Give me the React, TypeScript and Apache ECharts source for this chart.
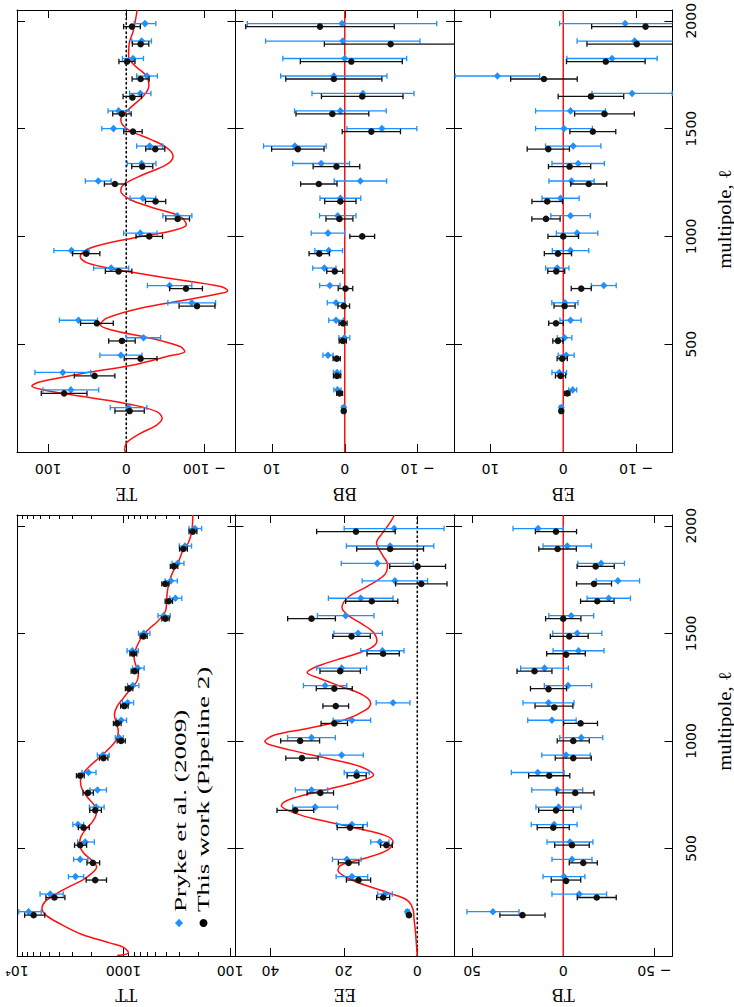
import React, { useEffect, useRef } from "react";
import * as echarts from "echarts";

// ---------- data ----------
// multipole bin centres (black = this work, blue = Pryke et al. 2009, drawn slightly offset)
const ellBlack = [190, 272, 353, 433, 515, 597, 677, 758, 838, 920, 1000, 1081, 1162, 1243, 1324, 1405, 1486, 1568, 1649, 1730, 1811, 1892, 1973];
const ellBlue = [206, 288, 369, 449, 530, 611, 692, 772, 853, 934, 1015, 1096, 1177, 1257, 1338, 1419, 1500, 1582, 1663, 1744, 1825, 1906, 1987];

// TT
const ttBlack = [6980, 4450, 1845, 1941, 2553, 2377, 1845, 2161, 2553, 1542, 1055, 1150, 985, 890, 787, 812, 650, 405, 377, 406, 337, 275, 224];
const ttBlackErr = [1500, 900, 400, 265, 330, 280, 230, 240, 215, 140, 92, 95, 80, 72, 62, 60, 50, 32, 30, 31, 27, 23, 19];
const ttBlue = [7780, 4880, 2826, 2553, 2291, 2679, 1807, 1757, 2133, 1563, 1100, 1052, 915, 818, 733, 827, 645, 420, 326, 360, 311, 265, 214];
const ttBlueErr = [1850, 1200, 460, 390, 410, 310, 285, 310, 320, 200, 95, 115, 110, 100, 92, 100, 80, 55, 42, 47, 40, 35, 29];
// TE
const teBlack = [-4.3, 79.6, 40.6, -18.4, 5.5, 37.6, -90.7, -76.6, 9.8, 51.3, -29.5, -65.9, -37.6, 14.5, -20.5, -37.2, -8.6, 5.5, -7.7, -18.4, -0.9, -18.4, -7.3];
const teBlackErr = [18.8, 29.3, 26, 21, 17, 21, 23, 21, 17, 17.5, 17, 15.2, 13, 13.5, 13.5, 12.2, 11.8, 11.8, 11.8, 10.9, 10.3, 10.5, 10.7];
const teBlue = [-3, 71, 81.3, 6.8, -22.2, 61.2, -83.9, -55.6, 19.3, 70.2, -18, -65.5, -21.4, 35.9, -19.7, -30, 16.3, 9.8, -18, -26.6, -8.6, -19.7, -24];
const teBlueErr = [23.5, 35.7, 35.7, 27, 21.8, 24.4, 30.6, 28.5, 22.5, 22.5, 21.4, 18.6, 16.5, 16.5, 18.4, 16.7, 15, 13.5, 13.7, 13.3, 13.5, 12.6, 13.9];
// EE
const eeBlack = [2.26, 9.3, 16.0, 18.7, 8.4, 18.3, 33.2, 26.4, 16.5, 31.4, 31.9, 22.6, 22.2, 22.6, 21.0, 9.3, 17.9, 28.8, 12.4, -1.1, -0.1, 7.4, 16.7];
const eeBlackErr = [0.4, 1.77, 3.3, 2.8, 1.6, 3.5, 5.0, 3.6, 2.6, 4.4, 5.3, 3.6, 3.5, 4.9, 5.5, 4.4, 5.1, 6.5, 7.1, 7.0, 7.6, 9.1, 10.7];
const eeBlue = [2.7, 8.8, 17.8, 19.2, 10.2, 17.8, 27.8, 28.8, 16.5, 20.6, 28.8, 17.8, 6.6, 25.1, 20.6, 9.5, 16.1, 19.5, 15.4, 6.1, 10.9, 7.4, 6.3];
const eeBlueErr = [0.5, 2.0, 4.3, 3.9, 2.5, 4.2, 6.1, 4.4, 3.4, 5.9, 6.5, 5.1, 4.6, 5.9, 6.8, 5.9, 6.6, 7.7, 8.8, 8.9, 9.8, 11.9, 13.6];
// BB
const bbBlack = [0.14, 0.7, 1.05, 1.1, 0.27, 0.23, 0.14, -0.1, 1.37, 3.5, -2.4, 0.73, 0.6, 3.56, 1.14, 6.44, -3.65, 1.7, -2.4, 1.5, -0.9, -6.3, 3.4];
const bbBlackErr = [0.2, 0.4, 0.5, 0.5, 0.5, 0.55, 0.8, 1.0, 1.1, 1.4, 1.7, 1.85, 2.15, 2.5, 3.2, 3.6, 4.0, 5.0, 5.6, 6.6, 7.0, 9.1, 10.2];
const bbBlue = [0.14, 1.0, 1.05, 2.3, 0.05, 1.2, 1.2, 2.05, 2.8, 2.2, 2.3, 0.96, 0.6, -2.15, 3.24, 6.85, -5.1, 0.6, -2.5, 1.5, 0, 0.27, 0.37];
const bbBlueErr = [0.25, 0.5, 0.5, 0.7, 0.75, 1.0, 1.2, 1.4, 1.6, 1.9, 2.3, 2.5, 2.8, 3.6, 3.9, 4.3, 4.8, 6.3, 7.0, 7.3, 8.5, 10.6, 13];
// EB
const ebBlack = [0.27, -0.55, 0.37, 0.14, 0.73, 1.0, -0.18, -2.47, 0.96, 0.73, 0, 2.37, 2.2, -3.5, -0.87, 2.05, -4.06, -5.66, -3.8, 2.65, -5.84, -10.1, -11.3];
const ebBlackErr = [0.2, 0.35, 0.7, 0.7, 0.7, 1.0, 1.45, 1.37, 1.16, 1.87, 2.1, 1.94, 2.1, 2.47, 2.9, 2.9, 3.15, 4.1, 4.5, 4.57, 5.4, 6.85, 7.4];
const ebBlue = [0.27, -1.3, 0.55, -0.4, -0.18, -1.0, -0.23, -5.57, 0.82, -1.0, -1.9, -1.0, 0.37, -1.14, -2.05, -1.37, -0.1, -1.0, -9.45, 9.04, -6.7, -9.8, -8.5];
const ebBlueErr = [0.25, 0.55, 1.0, 1.1, 1.0, 1.45, 1.8, 1.7, 1.6, 2.5, 2.85, 2.7, 2.55, 3.1, 3.6, 3.8, 3.9, 4.8, 5.5, 5.8, 6.2, 7.9, 9.0];
// TB
const tbBlack = [22.4, -18.4, -1.5, -11, -4.8, 5.5, 4.0, -6.6, 7.7, -5.5, -5.5, -9.5, 5.1, 8.1, 15.8, -1.5, -3.3, 0, -18.7, -16.9, -17.8, 3.1, 4.0];
const tbBlackErr = [12.4, 10.7, 8.1, 7.7, 9.5, 8.8, 9.5, 10.3, 11.3, 9.9, 8.8, 9.3, 10.4, 9.9, 9.6, 10.6, 10.4, 9.7, 9.2, 9.6, 10.2, 10.3, 11.3];
const tbBlue = [38.6, -8.8, -0.4, -4.8, -3.7, 5.0, 2.6, 3.3, 14, -1.5, -9.9, 6.2, 8.1, -2.6, 10.3, -8.4, -7.7, -4.4, -25, -30, -20.8, -2.2, 13.8];
const tbBlueErr = [14.3, 15, 11.5, 11, 12.6, 12.6, 12.4, 14, 14.5, 13.3, 11.8, 13.3, 14, 13, 13.1, 14, 13.5, 12.3, 11.9, 11.9, 12.8, 13.3, 13.8];

// theory curves
const ttTheoryEll = [2, 15, 40, 60, 100, 150, 190, 222, 255, 290, 320, 352, 384, 414, 446, 480, 520, 555, 590, 625, 665, 700, 740, 780, 815, 850, 890, 930, 970, 1005, 1045, 1085, 1120, 1160, 1200, 1240, 1276, 1315, 1350, 1385, 1420, 1455, 1493, 1525, 1550, 1586, 1610, 1656, 1695, 1740, 1790, 1830, 1890, 1920, 1975, 2050];
const ttTheory = [1150, 900, 1000, 1330, 2450, 3950, 5350, 5830, 5400, 4250, 3300, 2450, 1990, 1790, 2000, 2380, 2590, 2510, 2250, 1950, 1800, 1880, 2200, 2470, 2540, 2380, 2000, 1620, 1330, 1170, 1120, 1170, 1220, 1150, 1000, 865, 750, 725, 765, 796, 775, 725, 650, 565, 490, 425, 400, 394, 388, 372, 341, 306, 275, 247, 229, 224];
const teTheoryEll = [2, 40, 86, 125, 156, 187, 218, 257, 288, 306, 326, 365, 404, 443, 466, 489, 528, 567, 590, 621, 667, 706, 737, 748, 768, 807, 846, 877, 907, 946, 993, 1024, 1054, 1093, 1132, 1171, 1210, 1241, 1287, 1334, 1372, 1411, 1450, 1489, 1519, 1543, 1589, 1651, 1697, 1744, 1798, 1836, 1899, 1953, 2050];
const teTheory = [2, 0, -18, -39, -46, -39, -9, 55, 106, 121, 110, 55, -9, -52, -75, -69, -31, 20, 33, 25, -18, -78, -123, -130, -121, -52, 12, 50, 59, 46, -9, -56, -77, -69, -35, -5, 7, 3, -22, -52, -60, -52, -31, -5, 5, 7, -3, -22, -29, -26, -9, -3, -4, -9, -14];
const eeTheoryEll = [0, 113, 174, 213, 259, 290, 321, 352, 399, 422, 453, 492, 531, 562, 593, 624, 655, 700, 733, 771, 810, 841, 880, 918, 957, 998, 1027, 1058, 1097, 1144, 1175, 1214, 1253, 1291, 1318, 1353, 1392, 1431, 1465, 1509, 1547, 1586, 1620, 1671, 1718, 1772, 1819, 1865, 1920, 1966, 2012, 2050];
const eeTheory = [0, 0.5, 0.9, 1.1, 2.7, 7.2, 12.7, 17.6, 21.6, 20.8, 14.5, 8.1, 6.6, 9.0, 16.3, 24.4, 31.7, 37.0, 33.9, 25.3, 16.3, 11.9, 15.4, 24.4, 34.4, 41.5, 38.9, 29.9, 19.9, 14.0, 12.7, 14.9, 20.8, 26.7, 30.0, 26.2, 19.0, 12.7, 11.0, 12.2, 15.4, 19.0, 20.5, 18.6, 13.6, 8.9, 8.1, 9.5, 11.1, 9.5, 7.5, 6.2];
const zeroLineEll = [0, 2050];

// axis ticks
const ellRange = [0, 2050];
const ellTicks = [500, 1000, 1500, 2000];
const ttTicks = [100, 1000, 10000];
const ttMinorTicks = [200, 300, 400, 500, 600, 700, 800, 900, 2000, 3000, 4000, 5000, 6000, 7000, 8000, 9000];
const teTicks = [-100, 0, 100];
const bbTicks = [-10, 0, 10];
const ebTicks = [-10, 0, 10];
const eeTicks = [0, 20, 40];
const tbTicks = [-50, 0, 50];

// ---------- styling ----------
const BLUE = "#1E90FF";
const BLACK = "#111111";
const RED = "#FF1010";
const SANS = "DejaVu Sans";
const SERIF = "Liberation Serif";

const COL_LEFT = [17, 235.5, 454];
const COL_W = 218.5;
const ROW_TOP = [10, 515];
const ROW_H = [442, 441];
const LABEL_MARGIN = [10, 8];
const NAME_GAP = [33, 30];

type Panel = {
  name: string; row: number; col: number; log?: boolean; min: number; max: number; ticks: number[];
  black: number[]; blackErr: number[]; blue: number[]; blueErr: number[];
  theoryEll?: number[]; theory?: number[]; zero: "dotted" | "red" | "none";
};

const panels: Panel[] = [
  { name: "TE", row: 0, col: 0, min: -140, max: 140, ticks: teTicks, black: teBlack, blackErr: teBlackErr, blue: teBlue, blueErr: teBlueErr, theoryEll: teTheoryEll, theory: teTheory, zero: "dotted" },
  { name: "BB", row: 0, col: 1, min: -15, max: 15, ticks: bbTicks, black: bbBlack, blackErr: bbBlackErr, blue: bbBlue, blueErr: bbBlueErr, zero: "red" },
  { name: "EB", row: 0, col: 2, min: -15, max: 15, ticks: ebTicks, black: ebBlack, blackErr: ebBlackErr, blue: ebBlue, blueErr: ebBlueErr, zero: "red" },
  { name: "TT", row: 1, col: 0, log: true, min: 89, max: 10000, ticks: ttTicks, black: ttBlack, blackErr: ttBlackErr, blue: ttBlue, blueErr: ttBlueErr, theoryEll: ttTheoryEll, theory: ttTheory, zero: "none" },
  { name: "EE", row: 1, col: 1, min: -10, max: 49.5, ticks: eeTicks, black: eeBlack, blackErr: eeBlackErr, blue: eeBlue, blueErr: eeBlueErr, theoryEll: eeTheoryEll, theory: eeTheory, zero: "dotted" },
  { name: "TB", row: 1, col: 2, min: -60, max: 60, ticks: tbTicks, black: tbBlack, blackErr: tbBlackErr, blue: tbBlue, blueErr: tbBlueErr, zero: "red" },
];

const fmtTick = (log: boolean) => (v: number) => {
  const r = Math.round(v);
  if (log) return r >= 10000 ? "10\u2074" : String(r);
  return r < 0 ? "\u2212 " + String(-r) : String(r);
};
const fmtEll = (v: number) => String(Math.round(v));

const errRender = (isBlue: boolean) => (params: any, api: any) => {
  const v = api.value(0) as number;
  const l = api.value(1) as number;
  const e = api.value(2) as number;
  const cs = params.coordSys;
  const c = api.coord([v, l]);
  const a = api.coord([v - e, l]);
  const b = api.coord([v + e, l]);
  const left = cs.x;
  const right = cs.x + cs.width;
  const lo = Math.min(a[0], b[0]);
  const hi = Math.max(a[0], b[0]);
  const x1 = Math.max(lo, left);
  const x2 = Math.min(hi, right);
  const color = isBlue ? BLUE : BLACK;
  const stroke = { stroke: color, lineWidth: 1.3 };
  const y = c[1];
  const capH = 2.7;
  const children: any[] = [];
  if (x2 > x1) children.push({ type: "line", shape: { x1, y1: y, x2, y2: y }, style: stroke });
  if (lo >= left && lo <= right) children.push({ type: "line", shape: { x1: lo, y1: y - capH, x2: lo, y2: y + capH }, style: stroke });
  if (hi >= left && hi <= right) children.push({ type: "line", shape: { x1: hi, y1: y - capH, x2: hi, y2: y + capH }, style: stroke });
  if (c[0] >= left - 1 && c[0] <= right + 1) {
    if (isBlue) {
      children.push({ type: "polygon", shape: { points: [[c[0], y - 3.8], [c[0] + 3.6, y], [c[0], y + 3.8], [c[0] - 3.6, y]] }, style: { fill: color } });
    } else {
      children.push({ type: "circle", shape: { cx: c[0], cy: y, r: 3.3 }, style: { fill: color } });
    }
  }
  return { type: "group", children };
};

function buildOption() {
  const grid: any[] = [];
  const xAxis: any[] = [];
  const yAxis: any[] = [];
  const series: any[] = [];
  const lineStyle = { color: "#000", width: 1 };

  panels.forEach((p, gi) => {
    grid.push({ left: COL_LEFT[p.col], top: ROW_TOP[p.row], width: COL_W, height: ROW_H[p.row], show: false, containLabel: false, outerBoundsMode: "none" });

    const baseX = {
      type: p.log ? "log" : "value",
      logBase: 10,
      gridIndex: gi,
      min: p.min,
      max: p.max,
      inverse: true,
      splitLine: { show: false },
      splitArea: { show: false },
      minorTick: { show: false },
    };
    const xBottomIdx = xAxis.length;
    xAxis.push({
      ...baseX,
      position: "bottom",
      axisLine: { show: true, onZero: false, lineStyle },
      axisTick: { show: true, inside: true, length: 8, customValues: p.ticks, lineStyle },
      axisLabel: {
        show: true, customValues: p.ticks, rotate: 180, margin: LABEL_MARGIN[p.row],
        fontFamily: SANS, fontSize: 14, color: "#000", formatter: fmtTick(!!p.log),
      },
      name: p.name,
      nameLocation: "middle",
      nameGap: NAME_GAP[p.row],
      nameRotate: 180,
      nameMoveOverlap: false,
      nameTextStyle: { fontFamily: SERIF, fontSize: 18, color: "#000" },
    });
    xAxis.push({
      ...baseX,
      position: "top",
      axisLine: { show: true, onZero: false, lineStyle },
      axisTick: { show: true, inside: true, length: 8, customValues: p.ticks, lineStyle },
      axisLabel: { show: false },
    });
    if (p.log) {
      ["bottom", "top"].forEach((pos) => {
        xAxis.push({
          ...baseX,
          position: pos,
          axisLine: { show: false, onZero: false },
          axisTick: { show: true, inside: true, length: 4, customValues: ttMinorTicks, lineStyle },
          axisLabel: { show: false },
        });
      });
    }

    const baseY = {
      type: "value",
      gridIndex: gi,
      min: ellRange[0],
      max: ellRange[1],
      splitLine: { show: false },
      axisLine: { show: true, onZero: false, lineStyle },
      axisTick: { show: true, inside: true, length: 8, customValues: ellTicks, lineStyle },
    };
    const yLeftIdx = yAxis.length;
    yAxis.push({ ...baseY, position: "left", axisLabel: { show: false } });
    yAxis.push({
      ...baseY,
      position: "right",
      axisLabel: p.col === 2
        ? { show: true, customValues: ellTicks, rotate: 90, margin: 11, fontFamily: SANS, fontSize: 14, color: "#000", formatter: fmtEll }
        : { show: false },
    });

    if (p.zero !== "none") {
      series.push({
        type: "line",
        xAxisIndex: xBottomIdx,
        yAxisIndex: yLeftIdx,
        data: zeroLineEll.map((l) => [0, l]),
        symbol: "none",
        silent: true,
        z: 1,
        lineStyle: p.zero === "red"
          ? { color: RED, width: 1.5, type: "solid" }
          : { color: "#000", width: 1.6, type: [1.4, 3.2], cap: "round" },
      });
    }
    if (p.theory && p.theoryEll) {
      const th = p.theory;
      series.push({
        type: "line",
        xAxisIndex: xBottomIdx,
        yAxisIndex: yLeftIdx,
        data: p.theoryEll.map((l, i) => [th[i], l]),
        symbol: "none",
        smooth: 0.35,
        clip: true,
        silent: true,
        z: 2,
        lineStyle: { color: RED, width: 1.5 },
      });
    }
    series.push({
      type: "custom",
      xAxisIndex: xBottomIdx,
      yAxisIndex: yLeftIdx,
      renderItem: errRender(true),
      encode: { x: 0, y: 1 },
      data: ellBlue.map((l, i) => [p.blue[i], l, p.blueErr[i]]),
      silent: true,
      z: 3,
    });
    series.push({
      type: "custom",
      xAxisIndex: xBottomIdx,
      yAxisIndex: yLeftIdx,
      renderItem: errRender(false),
      encode: { x: 0, y: 1 },
      data: ellBlack.map((l, i) => [p.black[i], l, p.blackErr[i]]),
      silent: true,
      z: 4,
    });
  });

  const txt = (text: string, x: number, y: number, size: number, align: string, sx: number) => ({
    type: "text",
    x,
    y,
    rotation: Math.PI / 2,
    scaleX: sx,
    scaleY: 1,
    silent: true,
    z: 10,
    style: {
      text,
      fill: "#000",
      fontFamily: SERIF,
      fontSize: size,
      font: `${size}px "${SERIF}"`,
      align,
      textAlign: align,
      verticalAlign: "middle",
      textVerticalAlign: "middle",
    },
  });

  const graphic = [
    txt("multipole, \u2113", 725, 219, 18, "center", 1.15),
    txt("multipole, \u2113", 725, 721, 18, "center", 1.15),
    txt("Pryke et al. (2009)", 180, 912, 17, "left", 1.6),
    txt("This work (Pipeline 2)", 203.5, 912, 17, "left", 1.6),
    { type: "polygon", silent: true, z: 10, shape: { points: [[179, 918.8], [183, 923], [179, 927.2], [175, 923]] }, style: { fill: BLUE } },
    { type: "circle", silent: true, z: 10, shape: { cx: 203.5, cy: 923, r: 4 }, style: { fill: "#000" } },
  ];

  return {
    animation: false,
    backgroundColor: "#ffffff",
    grid,
    xAxis,
    yAxis,
    series,
    graphic,
  };
}

export default function App() {
  const ref = useRef<HTMLDivElement | null>(null);
  useEffect(() => {
    if (!ref.current) return;
    const chart = echarts.init(ref.current, undefined, { renderer: "svg" });
    chart.setOption(buildOption() as any);
    return () => {
      chart.dispose();
    };
  }, []);
  return (
    <div
      ref={ref}
      style={{ position: "fixed", left: 0, top: 0, width: 734, height: 1007, background: "#fff" }}
    />
  );
}
